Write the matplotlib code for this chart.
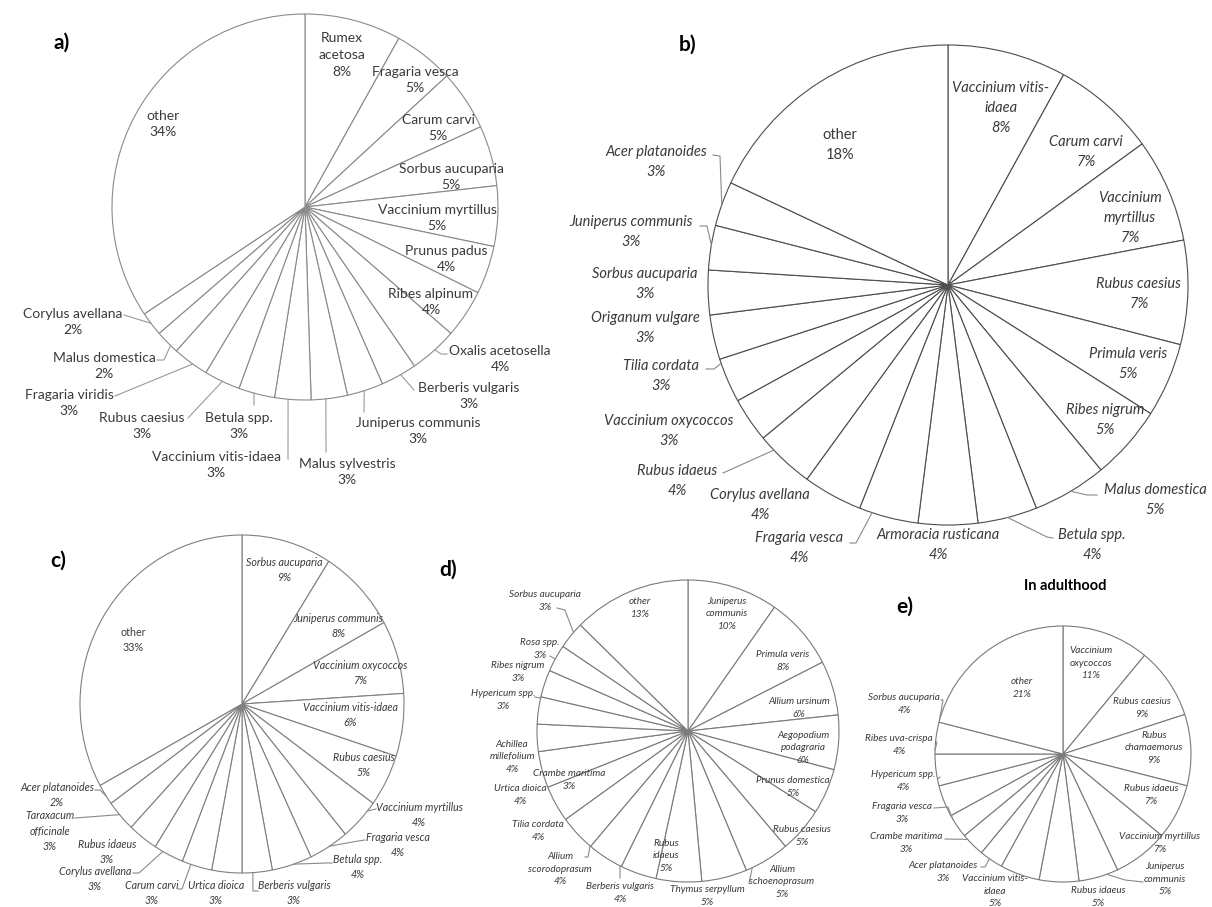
import matplotlib
matplotlib.use("Agg")
import matplotlib.pyplot as plt
from matplotlib.lines import Line2D
from matplotlib.transforms import Affine2D
import numpy as np

W, H = 1212, 907

# ---------------- data: species shares (%) per panel ----------------
species_a = ["Rumex\nacetosa", "Fragaria vesca", "Carum carvi", "Sorbus aucuparia",
             "Vaccinium myrtillus", "Prunus padus", "Ribes alpinum", "Oxalis acetosella",
             "Berberis vulgaris", "Juniperus communis", "Malus sylvestris",
             "Vaccinium vitis-idaea", "Betula spp.", "Rubus caesius", "Fragaria viridis",
             "Malus domestica", "Corylus avellana", "other"]
share_a = [8, 5, 5, 5, 5, 4, 4, 4, 3, 3, 3, 3, 3, 3, 3, 2, 2, 34]

species_b = ["Vaccinium vitis-\nidaea", "Carum carvi", "Vaccinium\nmyrtillus", "Rubus caesius",
             "Primula veris", "Ribes nigrum", "Malus domestica", "Betula spp.",
             "Armoracia rusticana", "Fragaria vesca", "Corylus avellana", "Rubus idaeus",
             "Vaccinium oxycoccos", "Tilia cordata", "Origanum vulgare", "Sorbus aucuparia",
             "Juniperus communis", "Acer platanoides", "other"]
share_b = [8, 7, 7, 7, 5, 5, 5, 4, 4, 4, 4, 4, 3, 3, 3, 3, 3, 3, 18]

species_c = ["Sorbus aucuparia", "Juniperus communis", "Vaccinium oxycoccos",
             "Vaccinium vitis-idaea", "Rubus caesius", "Vaccinium myrtillus", "Fragaria vesca",
             "Betula spp.", "Berberis vulgaris", "Urtica dioica", "Carum carvi",
             "Corylus avellana", "Rubus idaeus", "Taraxacum\nofficinale", "Acer platanoides",
             "other"]
share_c = [9, 8, 7, 6, 5, 4, 4, 4, 3, 3, 3, 3, 3, 3, 2, 33]

species_d = ["Juniperus\ncommunis", "Primula veris", "Allium ursinum", "Aegopodium\npodagraria",
             "Prunus domestica", "Rubus caesius", "Allium\nschoenoprasum", "Thymus serpyllum",
             "Rubus\nidaeus", "Berberis vulgaris", "Allium\nscorodoprasum", "Tilia cordata",
             "Urtica dioica", "Achillea\nmillefolium", "Crambe maritima", "Hypericum spp.",
             "Ribes nigrum", "Rosa spp.", "Sorbus aucuparia", "other"]
share_d = [10, 8, 6, 6, 5, 5, 5, 5, 5, 4, 4, 4, 4, 4, 3, 3, 3, 3, 3, 13]

species_e = ["Vaccinium\noxycoccos", "Rubus caesius", "Rubus\nchamaemorus", "Rubus idaeus",
             "Vaccinium myrtillus", "Juniperus\ncommunis", "Rubus idaeus",
             "Vaccinium vitis-\nidaea", "Acer platanoides", "Crambe maritima",
             "Fragaria vesca", "Hypericum spp.", "Ribes uva-crispa", "Sorbus aucuparia", "other"]
share_e = [11, 9, 9, 7, 7, 5, 5, 5, 3, 3, 3, 4, 4, 4, 21]

# ---------------- layout (pixel coordinates, origin top-left) ----------------
spots_a = [(342, 55), (415, 80), (438, 128), (451, 177), (437, 218), (446, 259), (431, 302),
           (500, 359), (469, 396), (418, 431), (347, 472), (216, 465), (239, 426), (142, 426),
           (69, 403), (104, 366), (73, 322), (163, 124)]
spots_b = [(1001, 108), (1086, 152), (1130, 218), (1139, 294), (1128, 364), (1105, 420),
           (1155, 500), (1092, 545), (938, 545), (799, 548), (760, 505), (677, 481),
           (669, 431), (661, 376), (645, 328), (645, 284), (631, 232), (656, 162), (840, 145)]
spots_c = [(284, 570), (338, 626), (360, 673), (350, 715), (364, 765), (419, 815), (398, 845),
           (358, 867), (294, 893), (216, 893), (152, 893), (95, 879), (107, 852), (50, 831),
           (57, 795), (133, 640)]
spots_d = [(727, 614), (783, 661), (799, 708), (803, 748), (793, 787), (802, 836), (782, 882),
           (707, 896), (666, 856), (620, 893), (560, 869), (538, 831), (520, 795), (512, 757),
           (569, 780), (503, 700), (518, 672), (540, 649), (545, 601), (640, 608)]
spots_e = [(1091, 663), (1142, 708), (1154, 748), (1151, 795), (1160, 843), (1165, 879),
           (1098, 897), (995, 891), (943, 872), (906, 843), (902, 813), (903, 781), (899, 745),
           (904, 704), (1022, 688)]

leaders_a = [[(124, 315), (150, 324)], [(157, 360), (164, 360), (169, 347)],
             [(115, 396), (192, 365)], [(188, 418), (222, 382)], [(254, 405), (254, 393)],
             [(288, 459), (288, 400)], [(326, 452), (326, 400)], [(364, 412), (364, 390)],
             [(414, 390), (402, 377)], [(447, 354), (441, 354), (435, 350)]]
leaders_b = [[(713, 155), (720, 156), (722, 205)], [(700, 226), (707, 226), (712, 245)],
             [(706, 369), (714, 369), (722, 363)], [(723, 473), (775, 449)],
             [(850, 543), (856, 543), (873, 510)], [(1053, 538), (1047, 537), (1007, 515)],
             [(1097, 495), (1087, 495), (1070, 490)]]
leaders_c = [[(95, 790), (100, 790), (105, 797)], [(75, 818), (118, 816)],
             [(133, 873), (139, 873), (162, 853)], [(178, 889), (182, 889), (190, 867)],
             [(258, 891), (253, 891), (253, 875)], [(332, 863), (327, 863), (295, 868)],
             [(365, 840), (358, 841), (330, 847)], [(376, 809), (372, 815)]]
leaders_d = [[(557, 608), (565, 610), (574, 633)], [(550, 656), (559, 661)],
             [(535, 697), (540, 698)], [(585, 857), (588, 857), (590, 846)],
             [(620, 878), (620, 866)], [(749, 883), (752, 867)]]
leaders_e = [[(941, 700), (943, 700), (943, 722)], [(937, 742), (938, 750)],
             [(940, 777), (943, 778)], [(934, 808), (948, 807), (955, 818)],
             [(945, 839), (967, 840)], [(981, 867), (985, 867), (990, 858)],
             [(1143, 882), (1125, 880), (1107, 875)]]

plt.rcParams["font.family"] = ["Lato", "DejaVu Sans"]
TXT = "#3a3a3a"

fig = plt.figure(figsize=(W / 100, H / 100), dpi=100)
fig.patch.set_facecolor("white")
px = Affine2D().scale(1 / W, -1 / H).translate(0, 1) + fig.transFigure


def draw_pie(cx, cy, rx, ry, values, edge, lw=0.8):
    ax = fig.add_axes([(cx - rx) / W, 1 - (cy + ry) / H, 2 * rx / W, 2 * ry / H])
    ax.pie(values, startangle=90, counterclock=False,
           wedgeprops=dict(facecolor="white", edgecolor=edge, linewidth=lw))
    ax.set_aspect("auto")
    ax.set_xlim(-1, 1)
    ax.set_ylim(-1, 1)
    ax.axis("off")
    return ax


def put_labels(names, values, spots, size, style, other_style, spacing):
    for name, v, (x, y) in zip(names, values, spots):
        st = other_style if name == "other" else style
        fig.text(x, y, f"{name}\n{v}%", transform=px, ha="center", va="center",
                 ma="center", fontsize=size, style=st, color=TXT, linespacing=spacing)


def put_leaders(cx, cy, rx, ry, paths, color):
    for path in paths:
        pts = [list(p) for p in path]
        # last point sits on the pie rim
        dx, dy = (pts[-1][0] - cx) / rx, (pts[-1][1] - cy) / ry
        k = 1 / np.hypot(dx, dy)
        pts[-1] = [cx + dx * k * rx, cy + dy * k * ry]
        xs, ys = zip(*pts)
        fig.add_artist(Line2D(xs, ys, transform=px, color=color, lw=0.8))


# a)
draw_pie(305, 207, 193, 193, share_a, "#8a8a8a")
put_leaders(305, 207, 193, 193, leaders_a, "#9a9a9a")
put_labels(species_a, share_a, spots_a, 10, "normal", "normal", 1.45)

# b)
draw_pie(948, 285, 240, 240, share_b, "#4d4d4d")
put_leaders(948, 285, 240, 240, leaders_b, "#8a8a8a")
put_labels(species_b, share_b, spots_b, 10.5, "italic", "normal", 1.5)

# c)
draw_pie(242, 704, 162, 169, share_c, "#808080")
put_leaders(242, 704, 162, 169, leaders_c, "#8a8a8a")
put_labels(species_c, share_c, spots_c, 7.7, "italic", "normal", 1.45)

# d)
draw_pie(688, 731, 151, 151, share_d, "#7a7a7a")
put_leaders(688, 731, 151, 151, leaders_d, "#8a8a8a")
put_labels(species_d, share_d, spots_d, 7.2, "italic", "italic", 1.5)

# e)
draw_pie(1063, 754, 128, 128, share_e, "#7a7a7a")
put_leaders(1063, 754, 128, 128, leaders_e, "#8a8a8a")
put_labels(species_e, share_e, spots_e, 7.2, "italic", "italic", 1.55)

for tag, (x, y) in zip(["a)", "b)", "c)", "d)", "e)"],
                       [(62, 43), (688, 45), (58, 561), (448, 570), (905, 607)]):
    fig.text(x, y, tag, transform=px, ha="center", va="center", fontsize=15,
             fontweight="bold", color="black")
fig.text(1065, 586, "In adulthood", transform=px, ha="center", va="center",
         fontsize=10.5, fontweight="bold", color="black")

fig.savefig("out.png", dpi=100, facecolor="white")
